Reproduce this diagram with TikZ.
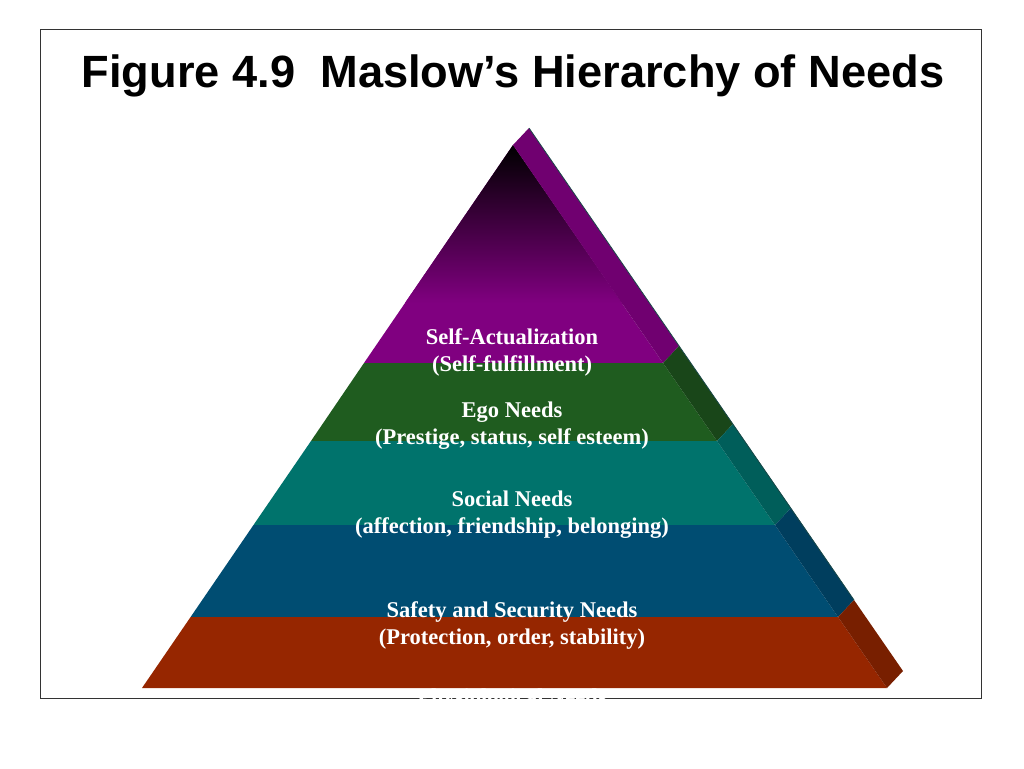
\documentclass[tikz,border=0pt]{standalone}
\usepackage{fontspec}
\setmainfont{Liberation Serif}
\newfontfamily\titlefont{Liberation Sans}
\definecolor{selfF}{HTML}{800080}
\definecolor{selfS}{HTML}{700070}
\definecolor{egoF}{HTML}{1F5C1F}
\definecolor{egoS}{HTML}{194619}
\definecolor{socF}{HTML}{00736C}
\definecolor{socS}{HTML}{005E5A}
\definecolor{safeF}{HTML}{004D72}
\definecolor{safeS}{HTML}{003E5E}
\definecolor{physF}{HTML}{962600}
\definecolor{physS}{HTML}{781F00}
\definecolor{edge}{HTML}{1A4848}
\tikzset{lbl/.style={text=white,font=\bfseries\fontsize{22.5}{27}\selectfont,align=center}}
\begin{document}
\begin{tikzpicture}[x=1pt,y=-1pt]
\useasboundingbox (0,0) rectangle (1024,768);
\draw[black!80,line width=0.9pt] (40,29) rectangle (981,698);
\node[font=\titlefont\bfseries\fontsize{45.2}{50}\selectfont] (title) at (513,76) {Figure 4.9\ \ Maslow’s Hierarchy of Needs};

% top of the pyramid
\fill[selfF] (513,145) -- (663,363) -- (364,363) -- cycle;
\shade[top color=black,bottom color=selfF] (513,145) -- (622,303) -- (405,303) -- cycle;
\fill[selfS] (513,145) -- (529,128) -- (679,346) -- (663,363) -- cycle;
% the other layers: front face, then side face
\foreach \yt/\lt/\rt/\yb/\lb/\rb/\lay [count=\n] in {363/364/663/441/311/717/ego, 441/311/717/525/253.5/775/soc, 525/253.5/775/617/190.6/838/safe, 617/190.6/838/688/142/887/phys}
  {
  \fill[\lay F] (\lt,\yt) -- (\rt,\yt) -- (\rb,\yb) -- (\lb,\yb) -- cycle;
  \fill[\lay S] (\rt,\yt) -- (\rt+16,\yt-17) -- (\rb+16,\yb-17) -- (\rb,\yb) -- cycle;
  }
\draw[edge,line width=0.8pt] (529,128) -- (854,600);

\foreach \y/\txt [count=\n] in {352.5/{Self-Actualization\\(Self-fulfillment)}, 425.5/{Ego Needs\\(Prestige, status, self esteem)}, 515/{Social Needs\\(affection, friendship, belonging)}, 625/{Safety and Security Needs\\(Protection, order, stability)}, 699/{Physiological Needs}}
  \node[lbl] (need\n) at (512,\y) {\txt};
\end{tikzpicture}
\end{document}
